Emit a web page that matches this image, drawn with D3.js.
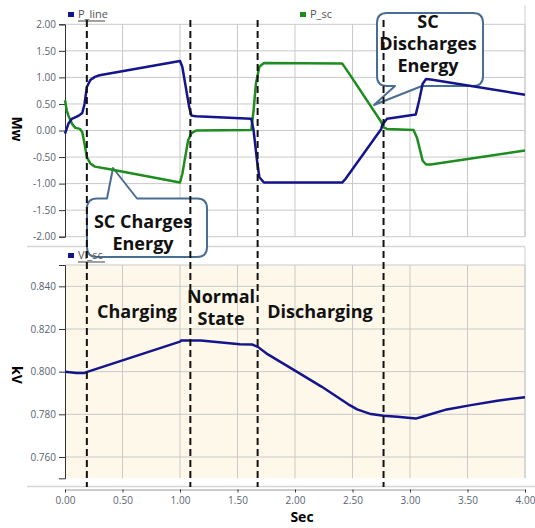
<!DOCTYPE html>
<meta charset="utf-8">
<style>
body {
  margin: 0;
  background: #fff;
  font-family: "Open Sans", "Noto Sans", sans-serif;
}
.tick text {
  font-size: 10px;
  fill: #5a6470;
}
.note {
  font-size: 18px;
  font-weight: bold;
  fill: #111;
}
.legend {
  font-size: 11px;
  fill: #555;
}
</style>
<body>
<script src="https://d3js.org/d3.v7.min.js"></script>
<script>

var width = 535,
    height = 528;

// time (s), value (MW)
var pLine = [
  [0.00, -0.06], [0.03, 0.13], [0.06, 0.22], [0.12, 0.28], [0.15, 0.33], [0.17, 0.50],
  [0.19, 0.82], [0.22, 0.95], [0.26, 1.01], [0.30, 1.04], [1.00, 1.31], [1.02, 1.20],
  [1.08, 0.44], [1.10, 0.28], [1.14, 0.27], [1.62, 0.22], [1.64, 0.00], [1.67, -0.57],
  [1.69, -0.88], [1.73, -0.98], [2.41, -0.98], [2.44, -0.91], [2.49, -0.76], [2.75, 0.03],
  [2.76, 0.11], [2.80, 0.22], [2.89, 0.25], [3.05, 0.30], [3.08, 0.57], [3.11, 0.88],
  [3.14, 0.97], [3.18, 0.96], [4.00, 0.675]
];

var pSc = [
  [0.00, 0.57], [0.015, 0.38], [0.03, 0.28], [0.06, 0.13], [0.09, 0.05], [0.13, 0.03],
  [0.15, -0.03], [0.17, -0.25], [0.19, -0.50], [0.22, -0.62], [0.26, -0.68], [0.39, -0.73],
  [1.00, -0.98], [1.02, -0.82], [1.07, -0.19], [1.10, -0.05], [1.14, 0.00], [1.62, 0.01],
  [1.64, 0.38], [1.66, 0.88], [1.69, 1.20], [1.73, 1.27], [2.41, 1.26], [2.44, 1.17],
  [2.49, 1.01], [2.75, 0.16], [2.77, 0.06], [2.80, 0.03], [3.03, 0.01], [3.06, -0.13],
  [3.11, -0.57], [3.14, -0.64], [3.18, -0.64], [4.00, -0.375]
];

// time (s), value (kV)
var vlSc = [
  [0.00, 0.8000], [0.10, 0.7994], [0.17, 0.7994], [0.20, 0.8000], [1.00, 0.8141],
  [1.01, 0.8146], [1.18, 0.8146], [1.34, 0.8138], [1.52, 0.8129], [1.63, 0.8127],
  [1.68, 0.8115], [1.75, 0.8086], [2.00, 0.8005], [2.23, 0.7930], [2.46, 0.7848],
  [2.54, 0.7823], [2.66, 0.7801], [2.77, 0.7793], [2.89, 0.7788], [3.05, 0.7780],
  [3.12, 0.7791], [3.32, 0.7823], [3.53, 0.7843], [3.76, 0.7864], [4.00, 0.7880]
];

var xTicks = [0, 0.5, 1, 1.5, 2, 2.5, 3, 3.5, 4];
var topTicks = [-2, -1.5, -1, -0.5, 0, 0.5, 1, 1.5, 2];
var botTicks = [0.76, 0.78, 0.80, 0.82, 0.84];
var stages = [0.19, 1.09, 1.675, 2.77];

var x = d3.scaleLinear().domain([0, 4]).range([65, 525]),
    yTop = d3.scaleLinear().domain([-2, 2]).range([236.7, 24.3]),
    yBot = d3.scaleLinear().domain([0.75, 0.85]).range([478.3, 265]);

var svg = d3.select("body").append("svg")
    .attr("width", width)
    .attr("height", height);

var gridColor = "#c9c9c9";

// panel frames
svg.append("rect")
    .attr("x", 65).attr("y", 265)
    .attr("width", 460).attr("height", 213.3)
    .attr("fill", "#fdf8ea");

svg.append("line")
    .attr("x1", 525).attr("x2", 525).attr("y1", 5).attr("y2", 237)
    .attr("stroke", "#d0d0d0");
svg.append("line")
    .attr("x1", 27).attr("x2", 525).attr("y1", 246.5).attr("y2", 246.5)
    .attr("stroke", "#d6d6d6").attr("stroke-width", 1.5);
svg.append("line")
    .attr("x1", 525).attr("x2", 525).attr("y1", 247).attr("y2", 478)
    .attr("stroke", "#d0d0d0");
svg.append("line")
    .attr("x1", 27).attr("x2", 535).attr("y1", 486.5).attr("y2", 486.5)
    .attr("stroke", "#d6d6d6").attr("stroke-width", 1.5);

// grids
svg.append("g").selectAll("line")
    .data(xTicks.slice(1))
  .enter().append("line")
    .attr("x1", x).attr("x2", x)
    .attr("y1", yTop(2)).attr("y2", yTop(-2))
    .attr("stroke", gridColor);
svg.append("g").selectAll("line")
    .data(topTicks)
  .enter().append("line")
    .attr("x1", 65).attr("x2", 525)
    .attr("y1", yTop).attr("y2", yTop)
    .attr("stroke", gridColor);
svg.append("g").selectAll("line")
    .data(xTicks.slice(1))
  .enter().append("line")
    .attr("x1", x).attr("x2", x)
    .attr("y1", 265).attr("y2", 478.3)
    .attr("stroke", gridColor);
svg.append("g").selectAll("line")
    .data(botTicks.concat([0.85]))
  .enter().append("line")
    .attr("x1", 65).attr("x2", 525)
    .attr("y1", yBot).attr("y2", yBot)
    .attr("stroke", gridColor);

// axes
function fmt(n) { return function(d) { return d.toFixed(n); }; }

var axTop = svg.append("g")
    .attr("transform", "translate(65,0)")
    .call(d3.axisLeft(yTop).tickValues(topTicks).tickFormat(fmt(2)).tickSizeOuter(0).tickSize(6).tickPadding(3));
var axBot = svg.append("g")
    .attr("transform", "translate(65,0)")
    .call(d3.axisLeft(yBot).tickValues(botTicks).tickFormat(fmt(3)).tickSizeOuter(0).tickSize(6).tickPadding(3));
var axX = svg.append("g")
    .attr("transform", "translate(0,489.5)")
    .call(d3.axisBottom(x).tickValues(xTicks).tickFormat(fmt(2)).tickSizeOuter(0).tickSize(3).tickPadding(4));

svg.selectAll(".domain").attr("stroke", "#333");
axX.select(".domain").attr("stroke", "#999");
svg.selectAll(".tick line").attr("stroke", "#333");
svg.selectAll(".tick text").attr("font-family", "Open Sans");

// axis titles
svg.append("text")
    .attr("transform", "translate(12,129) rotate(90)")
    .attr("text-anchor", "middle")
    .style("font-size", "14px").style("font-weight", "bold")
    .text("Mw");
svg.append("text")
    .attr("transform", "translate(12,375) rotate(90)")
    .attr("text-anchor", "middle")
    .style("font-size", "14px").style("font-weight", "bold")
    .text("kV");
svg.append("text")
    .attr("x", 302).attr("y", 522)
    .attr("text-anchor", "middle")
    .style("font-size", "14px").style("font-weight", "bold")
    .text("Sec");

// legends
var legends = [
  {name: "P_line", color: "#14148c", x: 68, y: 18, underline: true},
  {name: "P_sc", color: "#1e8c1e", x: 300, y: 18, underline: false}
];

// callout boxes
function callout(b) {
  var r = 10;
  var p = "M" + (b.x0 + r) + "," + b.y0;
  if (b.side === "top") p += "L" + b.p0 + "," + b.y0 + "L" + b.tx + "," + b.ty + "L" + b.p1 + "," + b.y0;
  p += "L" + (b.x1 - r) + "," + b.y0 + "Q" + b.x1 + "," + b.y0 + " " + b.x1 + "," + (b.y0 + r);
  p += "L" + b.x1 + "," + (b.y1 - r) + "Q" + b.x1 + "," + b.y1 + " " + (b.x1 - r) + "," + b.y1;
  if (b.side === "bottom") p += "L" + b.p1 + "," + b.y1 + "L" + b.tx + "," + b.ty + "L" + b.p0 + "," + b.y1;
  p += "L" + (b.x0 + r) + "," + b.y1 + "Q" + b.x0 + "," + b.y1 + " " + b.x0 + "," + (b.y1 - r);
  p += "L" + b.x0 + "," + (b.y0 + r) + "Q" + b.x0 + "," + b.y0 + " " + (b.x0 + r) + "," + b.y0 + "Z";
  return p;
}

var boxes = [
  {x0: 87, x1: 207, y0: 198.5, y1: 257, side: "top", p0: 107, p1: 137, tx: 113, ty: 168},
  {x0: 377, x1: 483, y0: 13, y1: 86, side: "bottom", p0: 395, p1: 422, tx: 374, ty: 105}
];

svg.append("g").selectAll("path")
    .data(boxes)
  .enter().append("path")
    .attr("d", callout)
    .attr("fill", "#fff")
    .attr("stroke", "#4a6e93")
    .attr("stroke-width", 2)
    .attr("stroke-linejoin", "round");

legends.push({name: "Vl_sc", color: "#14148c", x: 68, y: 259, underline: true});

var lg = svg.append("g").selectAll("g")
    .data(legends)
  .enter().append("g");
lg.append("rect")
    .attr("x", function(d) { return d.x; })
    .attr("y", function(d) { return d.y - 6; })
    .attr("width", 6).attr("height", 5)
    .attr("fill", function(d) { return d.color; });
lg.append("text")
    .attr("class", "legend")
    .attr("x", function(d) { return d.x + 10; })
    .attr("y", function(d) { return d.y; })
    .text(function(d) { return d.name; });
lg.filter(function(d) { return d.underline; }).append("line")
    .attr("x1", function(d) { return d.x + 10; })
    .attr("x2", function(d) { return d.x + 37; })
    .attr("y1", function(d) { return d.y + 3; })
    .attr("y2", function(d) { return d.y + 3; })
    .attr("stroke", "#444");

// series
var lineTop = d3.line()
    .x(function(d) { return x(d[0]); })
    .y(function(d) { return yTop(d[1]); });
var lineBot = d3.line()
    .x(function(d) { return x(d[0]); })
    .y(function(d) { return yBot(d[1]); });

svg.append("path")
    .datum(pSc)
    .attr("d", lineTop)
    .attr("fill", "none")
    .attr("stroke", "#1e8c1e")
    .attr("stroke-width", 2.5)
    .attr("stroke-linejoin", "round");
svg.append("path")
    .datum(pLine)
    .attr("d", lineTop)
    .attr("fill", "none")
    .attr("stroke", "#14148c")
    .attr("stroke-width", 2.5)
    .attr("stroke-linejoin", "round");
svg.append("path")
    .datum(vlSc)
    .attr("d", lineBot)
    .attr("fill", "none")
    .attr("stroke", "#14148c")
    .attr("stroke-width", 2.5)
    .attr("stroke-linejoin", "round");

// stage boundaries
svg.append("g").selectAll("line")
    .data(stages)
  .enter().append("line")
    .attr("x1", x).attr("x2", x)
    .attr("y1", 20).attr("y2", 487)
    .attr("stroke", "#111")
    .attr("stroke-width", 2)
    .attr("stroke-dasharray", "7,4");

// notes
var notes = [
  {lines: ["SC Charges", "Energy"], x: 143, y: 228, dy: 22},
  {lines: ["SC", "Discharges", "Energy"], x: 428, y: 28, dy: 22},
  {lines: ["Charging"], x: 137, y: 318, dy: 22},
  {lines: ["Normal", "State"], x: 221, y: 303, dy: 22},
  {lines: ["Discharging"], x: 320, y: 318, dy: 22}
];

var nt = svg.append("g").selectAll("text")
    .data(notes)
  .enter().append("text")
    .attr("class", "note")
    .attr("text-anchor", "middle");
nt.selectAll("tspan")
    .data(function(d) { return d.lines.map(function(l, i) { return {t: l, x: d.x, y: d.y + i * d.dy}; }); })
  .enter().append("tspan")
    .attr("x", function(d) { return d.x; })
    .attr("y", function(d) { return d.y; })
    .text(function(d) { return d.t; });

</script>
